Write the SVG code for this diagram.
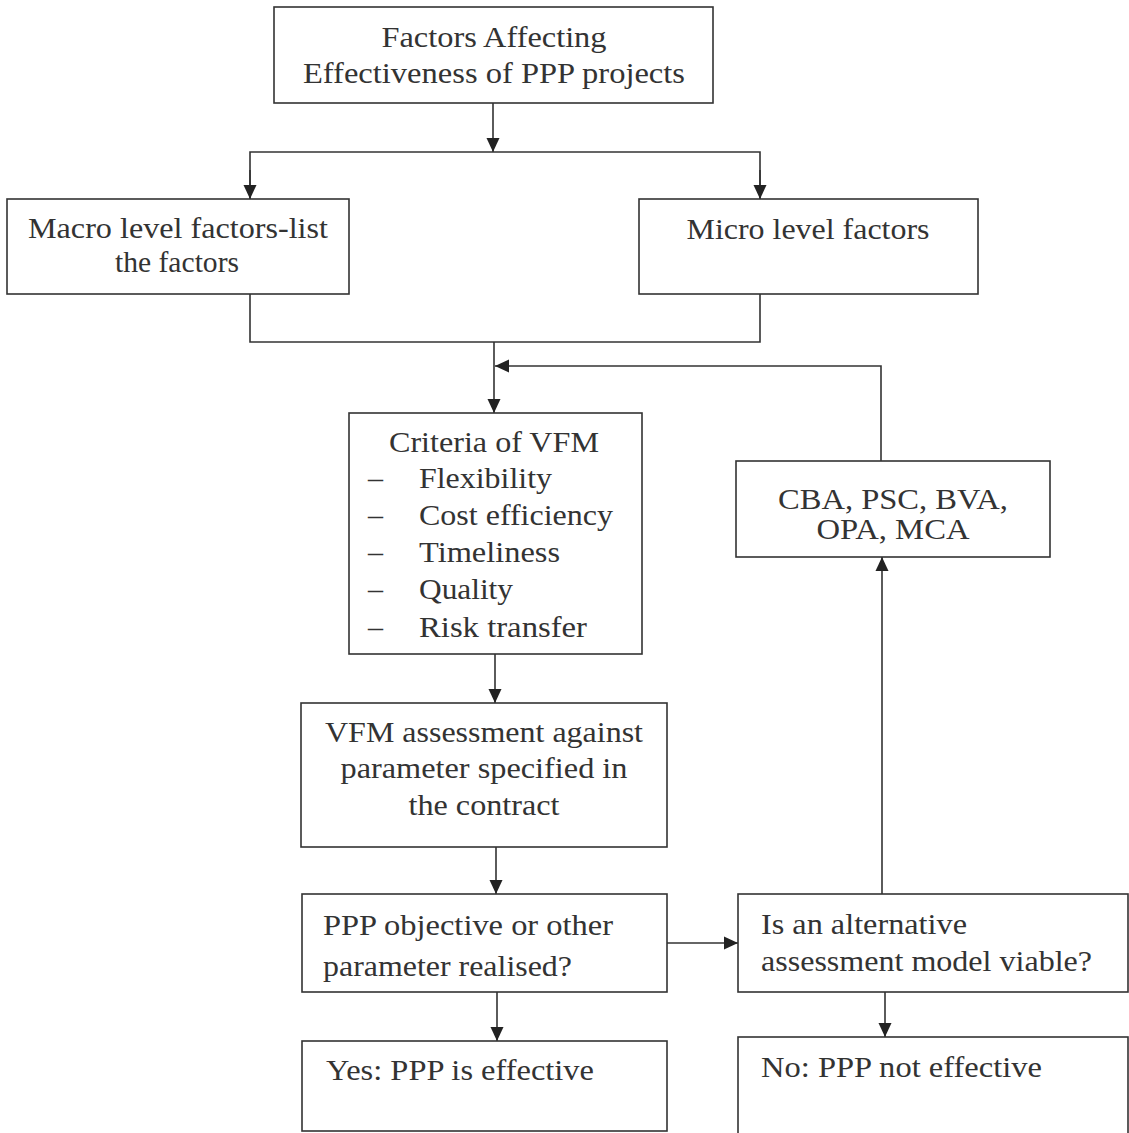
<svg xmlns="http://www.w3.org/2000/svg" width="1129" height="1133" viewBox="0 0 1129 1133">
<style>
.box{fill:#fff;stroke:#333;stroke-width:1.6}
.t{font-family:"Liberation Serif","Times New Roman",serif;font-size:30px;fill:#333}
.c{text-anchor:middle}
.ln{fill:none;stroke:#333;stroke-width:1.6}
</style>
<defs>
<marker id="ah" markerWidth="14" markerHeight="15" refX="14" refY="7" orient="auto" markerUnits="userSpaceOnUse">
<path d="M0,0.5 L14,7 L0,13.5 Z" fill="#222"/>
</marker>
</defs>
<rect width="1129" height="1133" fill="#fff"/>
<g id="connectors">
<line class="ln" x1="493" y1="103" x2="493" y2="152" marker-end="url(#ah)"/>
<polyline class="ln" points="250,199 250,152 760,152 760,199"/>
<line class="ln" x1="250" y1="170" x2="250" y2="199" marker-end="url(#ah)"/>
<line class="ln" x1="760" y1="170" x2="760" y2="199" marker-end="url(#ah)"/>
<polyline class="ln" points="250,294 250,342 760,342 760,294"/>
<line class="ln" x1="494" y1="342" x2="494" y2="413" marker-end="url(#ah)"/>
<polyline class="ln" points="881,461 881,366 495,366" marker-end="url(#ah)"/>
<line class="ln" x1="617" y1="558" x2="642" y2="558"/>
<line class="ln" x1="495" y1="654" x2="495" y2="703" marker-end="url(#ah)"/>
<line class="ln" x1="496" y1="847" x2="496" y2="894" marker-end="url(#ah)"/>
<line class="ln" x1="667" y1="943" x2="738" y2="943" marker-end="url(#ah)"/>
<line class="ln" x1="882" y1="894" x2="882" y2="557" marker-end="url(#ah)"/>
<line class="ln" x1="497" y1="992" x2="497" y2="1041" marker-end="url(#ah)"/>
<line class="ln" x1="885" y1="992" x2="885" y2="1037" marker-end="url(#ah)"/>
</g>
<g id="n-top">
<rect class="box" x="274" y="7" width="439" height="96"/>
<text class="t c" x="494" y="47" textLength="225" lengthAdjust="spacingAndGlyphs">Factors Affecting</text>
<text class="t c" x="494" y="83" textLength="382" lengthAdjust="spacingAndGlyphs">Effectiveness of PPP projects</text>
</g>
<g id="n-macro">
<rect class="box" x="7" y="199" width="342" height="95"/>
<text class="t c" x="178" y="238" textLength="300" lengthAdjust="spacingAndGlyphs">Macro level factors-list</text>
<text class="t c" x="177" y="272" textLength="124" lengthAdjust="spacingAndGlyphs">the factors</text>
</g>
<g id="n-micro">
<rect class="box" x="639" y="199" width="339" height="95"/>
<text class="t c" x="808" y="239" textLength="243" lengthAdjust="spacingAndGlyphs">Micro level factors</text>
</g>
<g id="n-criteria">
<rect class="box" x="349" y="413" width="293" height="241"/>
<text class="t c" x="494" y="452" textLength="210" lengthAdjust="spacingAndGlyphs">Criteria of VFM</text>
<g class="t">
<text x="368" y="488">–</text><text x="419" y="488" textLength="133" lengthAdjust="spacingAndGlyphs">Flexibility</text>
<text x="368" y="525">–</text><text x="419" y="525" textLength="194" lengthAdjust="spacingAndGlyphs">Cost efficiency</text>
<text x="368" y="562">–</text><text x="419" y="562" textLength="141" lengthAdjust="spacingAndGlyphs">Timeliness</text>
<text x="368" y="599">–</text><text x="419" y="599" textLength="94" lengthAdjust="spacingAndGlyphs">Quality</text>
<text x="368" y="637">–</text><text x="419" y="637" textLength="168" lengthAdjust="spacingAndGlyphs">Risk transfer</text>
</g>
</g>
<g id="n-cba">
<rect class="box" x="736" y="461" width="314" height="96"/>
<text class="t c" x="893" y="509" textLength="230" lengthAdjust="spacingAndGlyphs">CBA, PSC, BVA,</text>
<text class="t c" x="893" y="539" textLength="153" lengthAdjust="spacingAndGlyphs">OPA, MCA</text>
</g>
<g id="n-vfm">
<rect class="box" x="301" y="703" width="366" height="144"/>
<text class="t c" x="484" y="742" textLength="318" lengthAdjust="spacingAndGlyphs">VFM assessment against</text>
<text class="t c" x="484" y="778" textLength="287" lengthAdjust="spacingAndGlyphs">parameter specified in</text>
<text class="t c" x="484" y="815" textLength="151" lengthAdjust="spacingAndGlyphs">the contract</text>
</g>
<g id="n-ppp">
<rect class="box" x="302" y="894" width="365" height="98"/>
<text class="t" x="323" y="935" textLength="290" lengthAdjust="spacingAndGlyphs">PPP objective or other</text>
<text class="t" x="323" y="976" textLength="249" lengthAdjust="spacingAndGlyphs">parameter realised?</text>
</g>
<g id="n-alt">
<rect class="box" x="738" y="894" width="390" height="98"/>
<text class="t" x="761" y="934" textLength="206" lengthAdjust="spacingAndGlyphs">Is an alternative</text>
<text class="t" x="761" y="971" textLength="331" lengthAdjust="spacingAndGlyphs">assessment model viable?</text>
</g>
<g id="n-yes">
<rect class="box" x="302" y="1041" width="365" height="90"/>
<text class="t" x="326" y="1080" textLength="268" lengthAdjust="spacingAndGlyphs">Yes: PPP is effective</text>
</g>
<g id="n-no">
<rect class="box" x="738" y="1037" width="390" height="100"/>
<text class="t" x="761" y="1077" textLength="281" lengthAdjust="spacingAndGlyphs">No: PPP not effective</text>
</g>
</svg>
